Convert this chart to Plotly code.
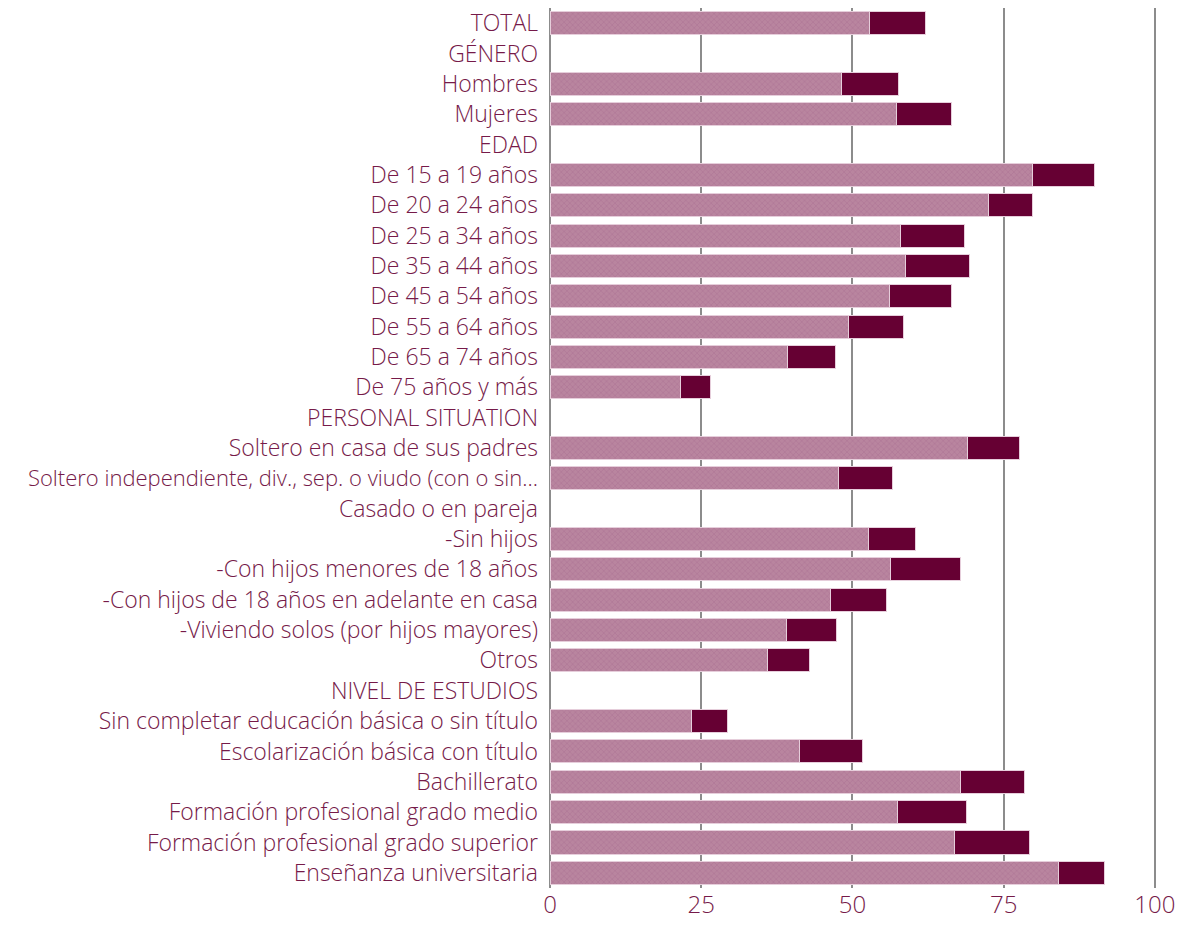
import plotly.graph_objects as go

categories = [
    "TOTAL", "GÉNERO", "Hombres", "Mujeres", "EDAD",
    "De 15 a 19 años", "De 20 a 24 años", "De 25 a 34 años", "De 35 a 44 años",
    "De 45 a 54 años", "De 55 a 64 años", "De 65 a 74 años", "De 75 años y más",
    "PERSONAL SITUATION", "Soltero en casa de sus padres",
    "Soltero independiente, div., sep. o viudo (con o sin...",
    "Casado o en pareja", "-Sin hijos", "-Con hijos menores de 18 años",
    "-Con hijos de 18 años en adelante en casa", "-Viviendo solos (por hijos mayores)",
    "Otros", "NIVEL DE ESTUDIOS",
    "Sin completar educación básica o sin título", "Escolarización básica con título",
    "Bachillerato", "Formación profesional grado medio",
    "Formación profesional grado superior", "Enseñanza universitaria",
]

# first (hatched) segment
base = [
    52.9, None, 48.2, 57.3, None,
    79.7, 72.5, 57.9, 58.7, 56.2, 49.4, 39.3, 21.5,
    None, 69.1, 47.7,
    None, 52.7, 56.3, 46.4, 39.1, 35.9,
    None, 23.4, 41.2, 67.9, 57.4, 66.9, 84.1,
]
# second (dark) segment
extra = [
    9.2, None, 9.4, 9.1, None,
    10.3, 7.2, 10.7, 10.7, 10.1, 9.1, 7.9, 5.1,
    None, 8.6, 8.9,
    None, 7.8, 11.6, 9.2, 8.2, 7.0,
    None, 6.0, 10.4, 10.6, 11.5, 12.3, 7.6,
]

TEXT = "#761a49"

# the truncated label is a bit too long for the margin, shrink it slightly
ticktext = [
    f'<span style="font-size:22px">{c}</span>' if c.endswith("...") else c
    for c in categories
]

fig = go.Figure()
fig.add_trace(go.Bar(
    y=categories, x=base, orientation="h",
    marker=dict(
        color="#b47c98",
        line=dict(color="#e6cedb", width=1),
        pattern=dict(shape="x", fgcolor="#a0648a", bgcolor="#b9859f",
                     size=4, solidity=0.25),
    ),
    showlegend=False,
))
fig.add_trace(go.Bar(
    y=categories, x=extra, orientation="h",
    marker=dict(color="#660033", line=dict(color="#e6cedb", width=1)),
    showlegend=False,
))

fig.update_layout(
    barmode="stack",
    bargap=0.24,
    width=1180, height=929,
    margin=dict(l=550, r=23, t=8, b=41),
    plot_bgcolor="white", paper_bgcolor="white",
    font=dict(family="Open Sans", size=23, color=TEXT, weight=300),
)
fig.update_xaxes(
    range=[0, 100.35], tickvals=[0, 25, 50, 75, 100],
    showgrid=True, gridcolor="#8c8c8c", gridwidth=2,
    zeroline=True, zerolinecolor="#8c8c8c", zerolinewidth=2,
    layer="above traces", tickfont=dict(size=24), ticks="",
    fixedrange=True, automargin=False,
)
fig.update_yaxes(
    autorange="reversed", ticks="", ticklabelstandoff=11,
    tickvals=categories, ticktext=ticktext,
    showgrid=False, tickfont=dict(size=23), automargin=False,
)

# drop the default page margin so the figure fills the window exactly
fig.write_html(
    "out.html",
    config={"displayModeBar": False},
    post_script="document.body.style.margin='0';",
)
